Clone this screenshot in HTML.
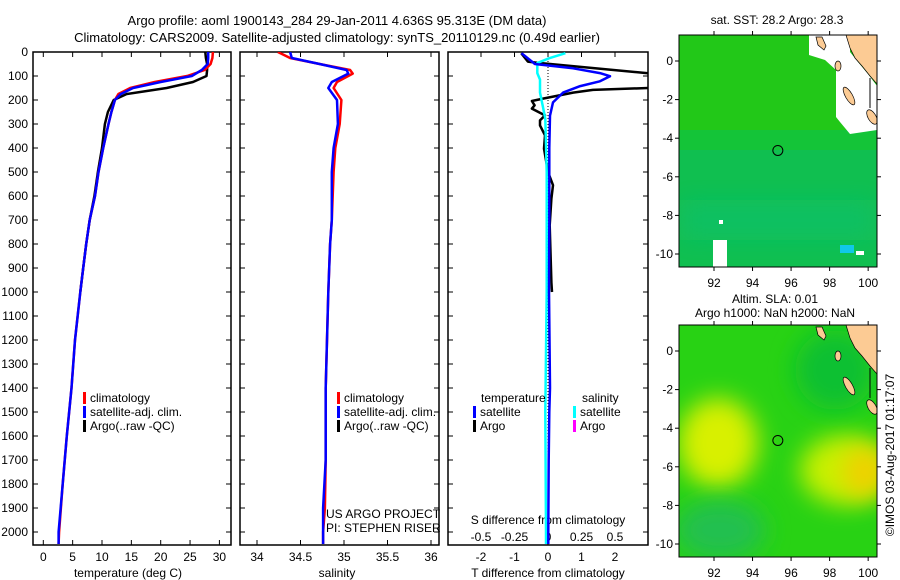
<!DOCTYPE html>
<html><head><meta charset="utf-8"><style>
body{margin:0;background:#fff}
svg{display:block;font-family:"Liberation Sans",sans-serif}
text{font-size:12px;fill:#000}
</style></head><body>
<svg id="c" width="900" height="580" viewBox="0 0 900 580">
<defs>
<clipPath id="cp1"><rect x="33" y="52" width="198" height="493"/></clipPath>
<clipPath id="cp2"><rect x="240" y="52" width="199" height="493"/></clipPath>
<clipPath id="cp3"><rect x="448" y="52" width="200" height="493"/></clipPath>
<clipPath id="m1"><rect x="679" y="35" width="198" height="232"/></clipPath>
<clipPath id="m2"><rect x="679" y="325" width="198" height="232"/></clipPath>
<filter id="bl" x="-50%" y="-50%" width="200%" height="200%"><feGaussianBlur stdDeviation="12"/></filter>
</defs>
<text x="337" y="25" text-anchor="middle" style="font-size:13px">Argo profile: aoml 1900143_284 29-Jan-2011 4.636S 95.313E (DM data)</text>
<text x="337" y="42" text-anchor="middle" style="font-size:13px">Climatology: CARS2009. Satellite-adjusted climatology: synTS_20110129.nc (0.49d earlier)</text>
<g id="g"></g>
</svg>
<script>
const depths=[0,25,50,75,100,125,150,175,200,250,300,400,500,600,700,800,900,1000,1200,1400,1600,1800,2000,2050];
const tempClim=[28.9,28.8,28.5,27.5,24.5,19,14.8,12.8,12.2,11.6,11.1,10.2,9.4,8.8,7.9,7.3,6.8,6.3,5.4,4.8,4.0,3.3,2.7,2.6];
const tempSat=[28.1,28.1,28.0,27.0,25.3,20,15.3,13.2,12.2,11.6,11.1,10.2,9.4,8.8,7.9,7.3,6.8,6.3,5.4,4.8,4.0,3.3,2.6,2.6];
const argoDepths=[0,25,50,75,100,125,150,175,200,250,300,400,500,600,700,800,900,1000];
const tempArgo=[27.6,27.7,27.9,27.9,27.8,25.5,21,14.2,12.0,11.0,10.5,10.0,9.3,8.7,7.9,7.3,6.8,6.3];
const salDepths=[0,25,50,75,90,125,150,200,300,400,500,700,800,1000,1400,1700,1900,2000,2050];
const salClim=[34.24,34.38,34.72,35.07,35.10,34.92,34.88,34.97,34.95,34.90,34.88,34.86,34.84,34.82,34.79,34.79,34.78,34.76,34.76];
const salSat=[34.38,34.4,34.72,35.03,35.05,34.86,34.82,34.92,34.93,34.88,34.86,34.86,34.84,34.82,34.79,34.79,34.76,34.76,34.76];
const dTdepths=[5,50,68,88,101,122,142,169,210,265,400,700,1000,1400,1500,1700,2000,2050];
const dTsat=[-0.79,-0.39,0.75,1.55,1.85,1.55,0.96,0.45,0.15,0.06,0.04,0.04,0.03,0.06,0.04,0.02,0.01,0.01];
const dTargoDepths=[5,40,45,88,92,110,146,150,158,169,194,204,222,236,264,285,306,347,403,500,555,611,722,960,1000];
const dTargo=[-0.8,-0.6,-0.33,2.95,4,4,4,3,1.34,0.75,-0.15,-0.48,-0.4,-0.48,-0.09,-0.24,-0.24,-0.09,-0.12,0,0.15,0.1,0.05,0.1,0.12];
const dSdepths=[5,26,46,88,115,169,222,278,500,1000,1500,2000,2050];
const dSsat=[0.13,0.01,-0.08,-0.08,-0.06,-0.06,-0.04,-0.02,-0.01,-0.01,-0.02,-0.015,-0.015];
const depthTicks=[0,100,200,300,400,500,600,700,800,900,1000,1100,1200,1300,1400,1500,1600,1700,1800,1900,2000];
const tempTicks=[0,5,10,15,20,25,30];
const salTicks=[34,34.5,35,35.5,36];
const dTticks=[-2,-1,0,1,2];
const dSticks=[-0.5,-0.25,0,0.25,0.5];
const lonTicks=[92,94,96,98,100];
const latTicks=[0,-2,-4,-6,-8,-10];
const argoLon=95.313, argoLat=-4.636;

const NS='http://www.w3.org/2000/svg';
const G=document.getElementById('g');
function el(t,a,p){const e=document.createElementNS(NS,t);for(const k in a)e.setAttribute(k,a[k]);(p||G).appendChild(e);return e;}
function txt(x,y,s,anchor,p){const e=el('text',{x:x,y:y,'text-anchor':anchor||'start'},p);e.textContent=s;return e;}
const yD=d=>52+d*0.24;
const xT=t=>43.3+t*5.87;
const xS=s=>257+(s-34)*87;
const xDT=v=>548+v*33.5;
const xDS=v=>548+v*134;
const xLon=l=>714+(l-92)*19.27;
const yLat1=l=>61-l*19.3;
const yLat2=l=>351-l*19.3;

function frame(x0,x1,name){
  const r=el('rect',{x:x0,y:52,width:x1-x0,height:493,fill:'none',stroke:'#000','stroke-width':1.5});
  
  
  depthTicks.forEach(d=>{
    el('line',{x1:x0,x2:x0+5,y1:yD(d),y2:yD(d),stroke:'#000'});
    el('line',{x1:x1-5,x2:x1,y1:yD(d),y2:yD(d),stroke:'#000'});
  });
}
function line(xs,ds,fx,color,w,clip,name){
  const pts=xs.map((v,i)=>fx(v).toFixed(1)+','+yD(ds[i]).toFixed(1)).join(' ');
  const p=el('polyline',{points:pts,fill:'none',stroke:color,'stroke-width':w,'clip-path':'url(#'+clip+')','stroke-linejoin':'round'});
  
  
}
frame(33,231,'temperature-panel');
depthTicks.forEach(d=>{const t=txt(28,yD(d)+4,String(d),'end');});
tempTicks.forEach(v=>{el('line',{x1:xT(v),x2:xT(v),y1:52,y2:57,stroke:'#000'});el('line',{x1:xT(v),x2:xT(v),y1:540,y2:545,stroke:'#000'});
  const t=txt(xT(v),561,String(v),'middle');});
{const t=txt(128,577,'temperature (deg C)','middle');}
line(tempArgo,argoDepths,xT,'#000',2.5,'cp1','temp-argo-line');
line(tempClim,depths,xT,'#f00',2.5,'cp1','temp-climatology-line');
line(tempSat,depths,xT,'#00f',2.5,'cp1','temp-satellite-line');
frame(240,439,'salinity-panel');
salTicks.forEach(v=>{el('line',{x1:xS(v),x2:xS(v),y1:52,y2:57,stroke:'#000'});el('line',{x1:xS(v),x2:xS(v),y1:540,y2:545,stroke:'#000'});
  const t=txt(xS(v),561,String(v),'middle');});
{const t=txt(337,577,'salinity','middle');}
line(salClim,salDepths,xS,'#f00',2.5,'cp2','sal-climatology-line');
line(salSat,salDepths,xS,'#00f',2.5,'cp2','sal-satellite-line');
frame(448,648,'difference-panel');
el('line',{x1:548,x2:548,y1:52,y2:545,stroke:'#000','stroke-dasharray':'1,2'});
dTticks.forEach(v=>{el('line',{x1:xDT(v),x2:xDT(v),y1:52,y2:57,stroke:'#000'});
  const t=txt(xDT(v),561,String(v),'middle');});
dSticks.forEach(v=>{const t=txt(xDS(v),541,String(v),'middle');});
{const t=txt(548,524,'S difference from climatology','middle');}
{const t=txt(548,577,'T difference from climatology','middle');}
line(dTargo,dTargoDepths,xDT,'#000',2.5,'cp3','t-diff-argo-line');
line(dSsat,dSdepths,xDS,'#0ff',2.5,'cp3','s-diff-satellite-line');
line(dTsat,dTdepths,xDT,'#00f',2.5,'cp3','t-diff-satellite-line');
function leg(x,y,c,s,name){el('rect',{x:x,y:y-10,width:3,height:12,fill:c});const t=txt(x+7,y,s);}
leg(83,402,'#f00','climatology','legend-climatology');leg(83,416,'#00f','satellite-adj. clim.','legend-satellite');leg(83,430,'#000','Argo(..raw -QC)','legend-argo');
leg(337,402,'#f00','climatology','legend-climatology-2');leg(337,416,'#00f','satellite-adj. clim.','legend-satellite-2');leg(337,430,'#000','Argo(..raw -QC)','legend-argo-2');
txt(481,402,'temperature');txt(582,402,'salinity');
leg(473,416,'#00f','satellite','legend-t-satellite');leg(473,430,'#000','Argo','legend-t-argo');
leg(573,416,'#0ff','satellite','legend-s-satellite');leg(573,430,'#f0f','Argo','legend-s-argo');
txt(326,518,'US ARGO PROJECT');txt(326,532,'PI: STEPHEN RISER');

function coast(dy,maskWhite){
  const g=el('g',{'clip-path':'url(#'+(dy?'m2':'m1')+')'});
  const sh=s=>s.split(' ').map(p=>{const[a,b]=p.split(',');return a+','+(+b+dy)}).join(' ');
  if(maskWhite){el('polygon',{points:sh(`809,35 850,35 850,52 858,62 868,74 877,86 877,130 850,134 840,122 836,117 836,70 825,60 809,55`),fill:'#fff'},g);}
  el('polygon',{points:sh(`846,35 877,35 877,84 870,76 862,66 855,58 850,48`),fill:'#fccb94',stroke:'#000','stroke-width':0.7},g);
  el('polygon',{points:sh(`816,37 822,37 826,46 824,50 818,45`),fill:'#fccb94',stroke:'#000','stroke-width':0.7},g);
  el('ellipse',{cx:849,cy:96+dy,rx:3.5,ry:10,transform:`rotate(-30 849 ${96+dy})`,fill:'#fccb94',stroke:'#000','stroke-width':0.7},g);
  el('ellipse',{cx:838,cy:66+dy,rx:3,ry:5,fill:'#fccb94',stroke:'#000','stroke-width':0.7},g);
  el('ellipse',{cx:872,cy:117+dy,rx:4,ry:8,transform:`rotate(-30 872 ${117+dy})`,fill:'#fccb94',stroke:'#000','stroke-width':0.7},g);
  el('line',{x1:870,y1:78+dy,x2:870,y2:108+dy,stroke:'#000'},g);
}
function mapAxes(top,yl,name){
  const r=el('rect',{x:679,y:top,width:198,height:232,fill:'none',stroke:'#000'});
  
  
  lonTicks.forEach(v=>{el('line',{x1:xLon(v),x2:xLon(v),y1:top-4,y2:top,stroke:'#000'});el('line',{x1:xLon(v),x2:xLon(v),y1:top+232,y2:top+236,stroke:'#000'});txt(xLon(v),top+252,String(v),'middle');});
  latTicks.forEach(v=>{el('line',{x1:675,x2:679,y1:yl(v),y2:yl(v),stroke:'#000'});el('line',{x1:877,x2:881,y1:yl(v),y2:yl(v),stroke:'#000'});txt(673,yl(v)+4,String(v),'end');});
  const c=el('circle',{cx:xLon(argoLon),cy:yl(argoLat),r:5,fill:'none',stroke:'#000'});
  
  
}
{const g=el('g',{'clip-path':'url(#m1)'});
 el('rect',{x:679,y:35,width:198,height:232,fill:'#10bf50'},g);
 el('rect',{x:679,y:35,width:198,height:105,fill:'#22c818'},g);
 el('rect',{x:679,y:130,width:198,height:20,fill:'#14c438'},g);
 el('rect',{x:679,y:200,width:198,height:40,fill:'#0cc062',filter:'url(#bl)'},g);
 el('rect',{x:840,y:245,width:14,height:8,fill:'#10c8e8'},g);
 el('rect',{x:713,y:240,width:14,height:27,fill:'#fff'},g);
 el('rect',{x:719,y:220,width:4,height:4,fill:'#fff'},g);
 el('rect',{x:856,y:251,width:8,height:4,fill:'#fff'},g);}
coast(0,true);
mapAxes(35,yLat1,'sst-map');
{const t=txt(777,24,'sat. SST: 28.2 Argo: 28.3','middle');}
{const g=el('g',{'clip-path':'url(#m2)'});
 el('rect',{x:679,y:325,width:198,height:232,fill:'#28d214'},g);
 el('ellipse',{cx:718,cy:443,rx:40,ry:45,fill:'#d8f000',filter:'url(#bl)'},g);
 el('ellipse',{cx:845,cy:470,rx:45,ry:35,fill:'#c8f000',filter:'url(#bl)'},g);
 el('ellipse',{cx:865,cy:472,rx:22,ry:25,fill:'#f0d000',filter:'url(#bl)'},g);
 el('ellipse',{cx:720,cy:530,rx:45,ry:30,fill:'#20c050',filter:'url(#bl)'},g);
 el('ellipse',{cx:835,cy:370,rx:40,ry:40,fill:'#0cc030',filter:'url(#bl)'},g);}
coast(290,false);
mapAxes(325,yLat2,'sla-map');
{const t=txt(775,303,'Altim. SLA: 0.01','middle');}
{const t=txt(775,317,'Argo h1000: NaN h2000: NaN','middle');}
{const t=txt(0,0,'©IMOS 03-Aug-2017 01:17:07','middle');t.setAttribute('transform','translate(894,455) rotate(-90)');}
</script>
</body></html>
